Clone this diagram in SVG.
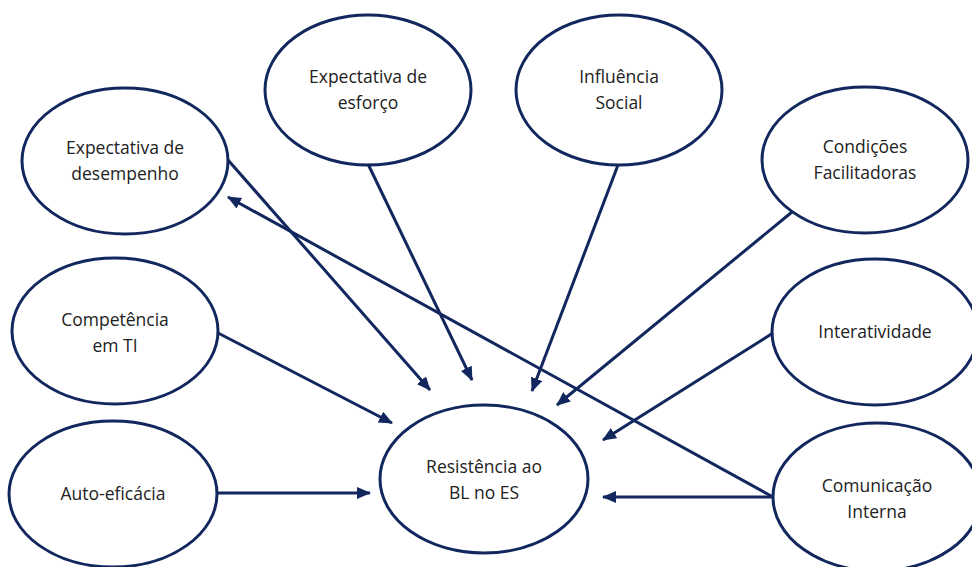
<svg xmlns="http://www.w3.org/2000/svg" width="972" height="567" viewBox="0 0 972 567">
<style>
.n ellipse{fill:#fff;stroke:#12275e;stroke-width:3}
.n text{font-family:"Open Sans","Liberation Sans",sans-serif;font-size:17.5px;fill:#222;text-anchor:middle}
.c line{stroke:#12275e;stroke-width:3;marker-end:url(#ah)}
</style>
<defs>
<marker id="ah" markerUnits="userSpaceOnUse" markerWidth="14" markerHeight="12" refX="13" refY="6" orient="auto">
<path d="M0,0 L14,6 L0,12 Z" fill="#12275e"/>
</marker>
</defs>
<rect width="972" height="567" fill="#fff"/>
<g id="n-desempenho" class="n"><ellipse cx="125" cy="161" rx="103" ry="73"/><text x="125" y="154">Expectativa de</text><text x="125" y="180">desempenho</text></g>
<g id="n-esforco" class="n"><ellipse cx="368" cy="90" rx="103" ry="75"/><text x="368" y="83">Expectativa de</text><text x="368" y="109">esforço</text></g>
<g id="n-social" class="n"><ellipse cx="619" cy="90" rx="103" ry="75"/><text x="619" y="83">Influência</text><text x="619" y="109">Social</text></g>
<g id="n-condicoes" class="n"><ellipse cx="865" cy="160" rx="103" ry="73"/><text x="865" y="153">Condições</text><text x="865" y="179">Facilitadoras</text></g>
<g id="n-competencia" class="n"><ellipse cx="115" cy="331" rx="103" ry="73"/><text x="115" y="326">Competência</text><text x="115" y="352">em TI</text></g>
<g id="n-interatividade" class="n"><ellipse cx="875" cy="332" rx="103" ry="73"/><text x="875" y="338">Interatividade</text></g>
<g id="n-autoeficacia" class="n"><ellipse cx="113" cy="494" rx="104" ry="73"/><text x="113" y="500">Auto-eficácia</text></g>
<g id="n-comunicacao" class="n"><ellipse cx="877" cy="497" rx="104" ry="74"/><text x="877" y="492">Comunicação</text><text x="877" y="518">Interna</text></g>
<g id="c" class="c">
<line x1="228" y1="160" x2="430" y2="390"/>
<line x1="368" y1="164" x2="472" y2="380"/>
<line x1="618" y1="165" x2="532" y2="391"/>
<line x1="792" y1="212" x2="557" y2="405"/>
<line x1="773" y1="333" x2="603" y2="440"/>
<line x1="773" y1="497" x2="603" y2="497"/>
<line x1="773" y1="497" x2="228" y2="197"/>
<line x1="218" y1="333" x2="392" y2="423"/>
<line x1="218" y1="493" x2="370" y2="493"/>
</g>
<g id="n-resistencia" class="n"><ellipse cx="484" cy="479" rx="104" ry="74"/><text x="484" y="473">Resistência ao</text><text x="484" y="499">BL no ES</text></g>
</svg>
